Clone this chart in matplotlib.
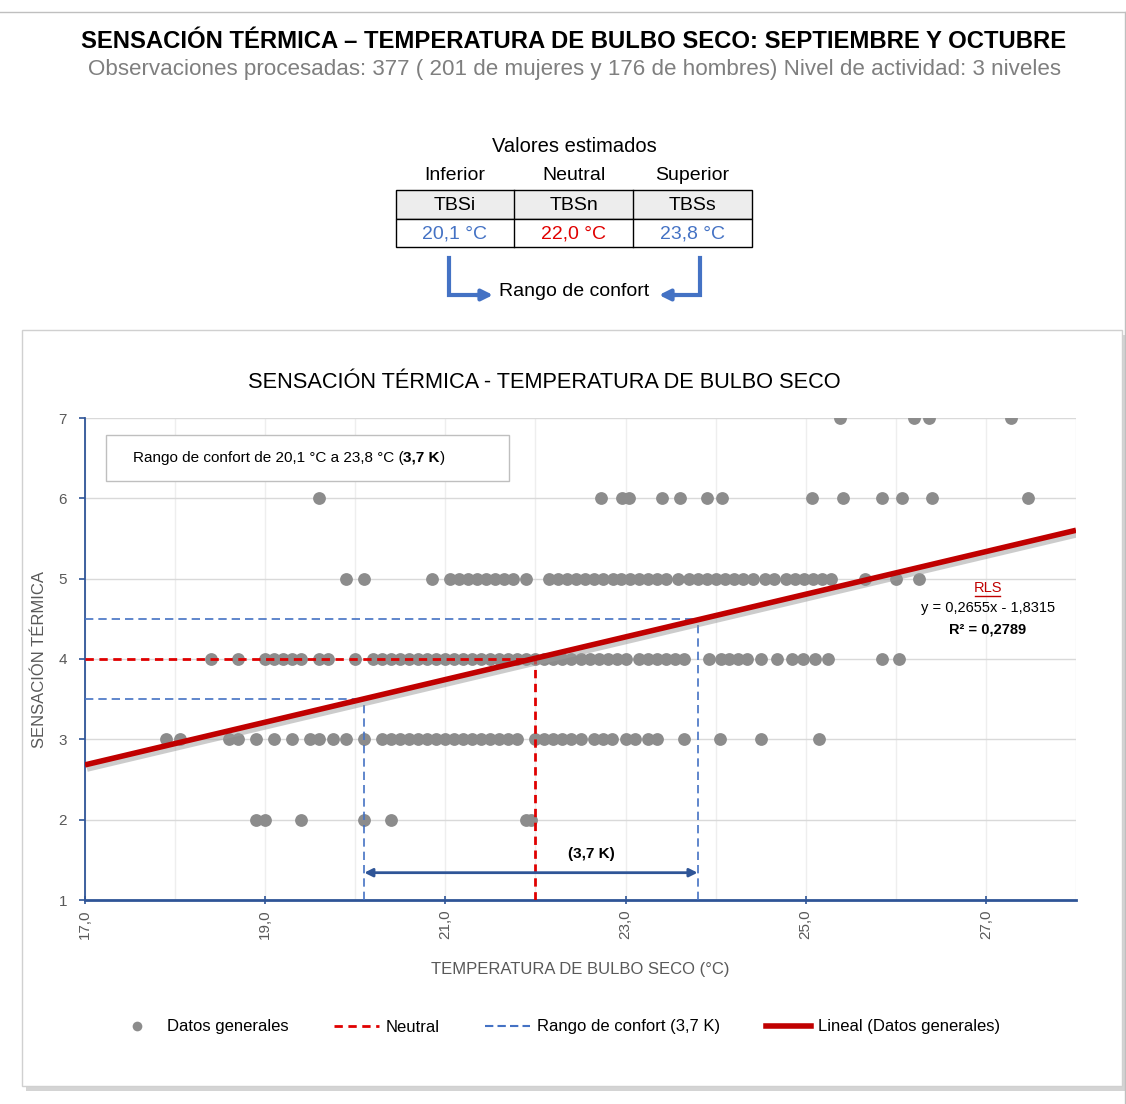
import numpy as np
import matplotlib
matplotlib.use("Agg")
import matplotlib.pyplot as plt
import matplotlib.patheffects as pe
from matplotlib.lines import Line2D
from matplotlib.patches import Rectangle

plt.rcParams['font.family'] = ['Liberation Sans', 'DejaVu Sans']

# Temperatura de bulbo seco (°C) de las observaciones, por nivel de sensación térmica
sens_2 = [18.9, 19.0, 19.4, 20.1, 20.4, 21.9, 21.95]
sens_3 = [17.9, 18.05, 18.6, 18.7, 18.9, 19.1, 19.3, 19.5, 19.6, 19.75, 19.9, 20.1,
          20.3, 20.4, 20.5, 20.6, 20.7, 20.8, 20.9, 21.0, 21.1, 21.2, 21.3, 21.4,
          21.5, 21.6, 21.7, 21.8, 22.0, 22.1, 22.2, 22.3, 22.4, 22.5, 22.65, 22.75,
          22.85, 23.0, 23.1, 23.25, 23.35, 23.65, 24.05, 24.5, 25.15]
sens_4 = [18.4, 18.7, 19.0, 19.1, 19.2, 19.3, 19.4, 19.6, 19.7, 20.0, 20.2, 20.3,
          20.4, 20.5, 20.6, 20.7, 20.8, 20.9, 21.0, 21.1, 21.2, 21.3, 21.4, 21.5,
          21.6, 21.7, 21.8, 21.9, 22.0, 22.1, 22.2, 22.3, 22.4, 22.5, 22.6, 22.7,
          22.8, 22.9, 23.0, 23.15, 23.25, 23.35, 23.45, 23.55, 23.65, 23.93, 24.06,
          24.15, 24.25, 24.35, 24.5, 24.68, 24.85, 24.97, 25.1, 25.25, 25.85, 26.03]
sens_5 = [19.9, 20.1, 20.85, 21.05, 21.15, 21.25, 21.35, 21.45, 21.55, 21.65, 21.75,
          21.9, 22.15, 22.25, 22.35, 22.45, 22.55, 22.65, 22.75, 22.86, 22.95, 23.05,
          23.15, 23.25, 23.35, 23.45, 23.58, 23.7, 23.8, 23.9, 24.0, 24.1, 24.2, 24.3,
          24.42, 24.55, 24.65, 24.78, 24.88, 24.98, 25.08, 25.18, 25.28, 25.66, 26.0, 26.26]
sens_6 = [19.6, 22.73, 22.96, 23.04, 23.4, 23.6, 23.9, 24.07, 25.07, 25.41, 25.85,
          26.07, 26.4, 27.47]
sens_7 = [25.38, 26.2, 26.37, 27.28]

niveles = [2, 3, 4, 5, 6, 7]
grupos = [sens_2, sens_3, sens_4, sens_5, sens_6, sens_7]

# Regresión lineal simple (RLS) y valores estimados
pendiente = 0.2655
intercepto = -1.8315
r2 = 0.2789
tbs_inf, tbs_neu, tbs_sup = 20.1, 22.0, 23.8
st_inf, st_neu, st_sup = 3.5, 4.0, 4.5
rango = 3.7

AZUL = '#4472C4'
AZUL_OSC = '#2F5597'
ROJO = '#E00000'
ROJO_RLS = '#C00000'
GRIS_PUNTO = '#8C8C8C'
GRIS_TXT = '#595959'


def coma(v, dec=1):
    return f"{v:.{dec}f}".replace('.', ',')


fig = plt.figure(figsize=(11.26, 11.04), dpi=100)

# capa de fondo en píxeles para encabezado, tabla y tarjeta del gráfico
bg = fig.add_axes([0, 0, 1, 1], zorder=0)
bg.set_xlim(0, 1126)
bg.set_ylim(1104, 0)
bg.axis('off')

bg.plot([0, 1126], [12, 12], color='#BFBFBF', lw=1)
bg.plot([1125, 1125], [12, 1104], color='#BFBFBF', lw=1)

bg.text(574, 41, "SENSACIÓN TÉRMICA – TEMPERATURA DE BULBO SECO: SEPTIEMBRE Y OCTUBRE",
        ha='center', va='center', fontsize=17.2, fontweight='bold', color='black')
bg.text(574, 69, "Observaciones procesadas: 377 ( 201 de mujeres y 176 de hombres) "
        "Nivel de actividad: 3 niveles",
        ha='center', va='center', fontsize=16.1, color='#7F7F7F')

# tabla de valores estimados
bg.text(574, 147, "Valores estimados", ha='center', va='center', fontsize=14.5)
cols = [396, 514, 633, 752]
encab = ["Inferior", "Neutral", "Superior"]
claves = ["TBSi", "TBSn", "TBSs"]
valores = [tbs_inf, tbs_neu, tbs_sup]
colores = [AZUL, ROJO, AZUL]
bg.add_patch(Rectangle((396, 190), 356, 29, fc='#EDEDED', ec='black', lw=1))
bg.add_patch(Rectangle((396, 219), 356, 28, fc='white', ec='black', lw=1))
for c in cols[1:-1]:
    bg.plot([c, c], [190, 247], color='black', lw=1)
for i in range(3):
    cx = (cols[i] + cols[i + 1]) / 2
    bg.text(cx, 176, encab[i], ha='center', va='center', fontsize=14)
    bg.text(cx, 205, claves[i], ha='center', va='center', fontsize=14)
    bg.text(cx, 234, coma(valores[i]) + " °C", ha='center', va='center',
            fontsize=14, color=colores[i])

# flechas hacia "Rango de confort"
bg.plot([449, 449, 480], [258, 295, 295], color=AZUL, lw=3, solid_joinstyle='miter')
bg.annotate('', xy=(493, 295), xytext=(476, 295),
            arrowprops=dict(arrowstyle='-|>', color=AZUL, lw=3, mutation_scale=16,
                            shrinkA=0, shrinkB=0))
bg.plot([700, 700, 672], [258, 295, 295], color=AZUL, lw=3, solid_joinstyle='miter')
bg.annotate('', xy=(659, 295), xytext=(676, 295),
            arrowprops=dict(arrowstyle='-|>', color=AZUL, lw=3, mutation_scale=16,
                            shrinkA=0, shrinkB=0))
bg.text(574, 292, "Rango de confort", ha='center', va='center', fontsize=14)

# tarjeta del gráfico con sombra
bg.add_patch(Rectangle((26, 335), 1100, 756, fc='#D4D4D4', ec='none'))
bg.add_patch(Rectangle((22, 330), 1100, 756, fc='white', ec='#D0D0D0', lw=1))
bg.text(544, 383, "SENSACIÓN TÉRMICA - TEMPERATURA DE BULBO SECO", ha='center',
        va='center', fontsize=15.7, color='black')

# área de trazado
ax = fig.add_axes([85 / 1126, 1 - 900 / 1104, (1076 - 85) / 1126, (900 - 418) / 1104],
                  zorder=1)
ax.set_facecolor('none')
ax.set_xlim(17, 28)
ax.set_ylim(1, 7)

ax.set_xticks(np.arange(17, 28, 2))
ax.set_xticklabels([coma(t) for t in np.arange(17, 28, 2)], rotation=90,
                   fontsize=11, color=GRIS_TXT)
ax.set_xticks(np.arange(17, 29, 1), minor=True)
ax.set_yticks(np.arange(1, 8, 1))
ax.set_yticklabels([str(t) for t in range(1, 8)], fontsize=11, color=GRIS_TXT)
ax.tick_params(axis='x', which='major', direction='inout', length=6, color=AZUL_OSC,
               width=1.2, pad=4)
ax.tick_params(axis='x', which='minor', length=0)
ax.tick_params(axis='y', direction='out', length=4, color=AZUL_OSC, width=1.2, pad=9)

ax.grid(axis='x', which='both', color='#EEEEEE', lw=1, zorder=0)
ax.grid(axis='y', which='major', color='#D9D9D9', lw=1, zorder=0)
ax.set_axisbelow(True)
for s in ['top', 'right']:
    ax.spines[s].set_visible(False)
ax.spines['left'].set_color(AZUL_OSC)
ax.spines['left'].set_linewidth(1.3)
ax.spines['bottom'].set_color(AZUL_OSC)
ax.spines['bottom'].set_linewidth(2)

ax.set_xlabel("TEMPERATURA DE BULBO SECO (°C)", fontsize=12, color=GRIS_TXT,
              labelpad=16)
ax.set_ylabel("SENSACIÓN TÉRMICA", fontsize=12, color=GRIS_TXT, labelpad=8)

for lvl, vals in zip(niveles, grupos):
    ax.scatter(vals, [lvl] * len(vals), s=85, color=GRIS_PUNTO, linewidths=0, zorder=3)

# líneas de referencia: neutral y rango de confort
ax.plot([17, tbs_neu], [st_neu, st_neu], color=ROJO, lw=2, dashes=(3, 2), zorder=4)
ax.plot([tbs_neu, tbs_neu], [1, st_neu], color=ROJO, lw=2, dashes=(3, 2), zorder=4)
for tx, sy in [(tbs_inf, st_inf), (tbs_sup, st_sup)]:
    ax.plot([17, tx], [sy, sy], color=AZUL, lw=1.2, dashes=(5, 3), zorder=4)
    ax.plot([tx, tx], [1, sy], color=AZUL, lw=1.2, dashes=(5, 3), zorder=4)

# recta de regresión
xs = np.array([17, 28])
ax.plot(xs, pendiente * xs + intercepto, color=ROJO_RLS, lw=4, zorder=5,
        solid_capstyle='butt',
        path_effects=[pe.SimpleLineShadow(offset=(1.5, -3), shadow_color='#9A9A9A',
                                          alpha=0.5), pe.Normal()])

ax.annotate('', xy=(tbs_inf, 1.34), xytext=(tbs_sup, 1.34),
            arrowprops=dict(arrowstyle='<|-|>', color=AZUL_OSC, lw=2,
                            mutation_scale=12, shrinkA=0, shrinkB=0), zorder=5)
ax.text(22.62, 1.57, f"({coma(rango)} K)", ha='center', va='center', fontsize=11,
        fontweight='bold')

# ecuación de la RLS
ax.text(27.02, 4.88, "RLS", ha='center', va='center', fontsize=10.5, color=ROJO_RLS,
        zorder=6)
ax.plot([26.88, 27.16], [4.78, 4.78], color=ROJO_RLS, lw=1, zorder=6)
ax.text(27.02, 4.63, f"y = {coma(pendiente, 4)}x - {coma(-intercepto, 4)}",
        ha='center', va='center', fontsize=10.5, zorder=6)
ax.text(27.02, 4.37, f"R² = {coma(r2, 4)}", ha='center', va='center', fontsize=10.5,
        fontweight='bold', zorder=6)

# cuadro de texto del rango de confort
ax.add_patch(Rectangle((17.23, 6.22), 4.48, 0.57, fc='white', ec='#BFBFBF', lw=1,
                       zorder=6))
t1 = ax.text(17.53, 6.505, f"Rango de confort de {coma(tbs_inf)} °C a {coma(tbs_sup)} °C (",
             ha='left', va='center', fontsize=11, zorder=7)
t2 = ax.annotate(f"{coma(rango)} K", xy=(1, 0), xycoords=t1, ha='left', va='bottom',
                 fontsize=11, fontweight='bold', zorder=7)
ax.annotate(")", xy=(1, 0), xycoords=t2, ha='left', va='bottom', fontsize=11, zorder=7)

# leyenda
handles = [
    Line2D([], [], ls='none', marker='o', ms=7, color=GRIS_PUNTO, mec='none'),
    Line2D([], [], color=ROJO, lw=2, dashes=(3, 2)),
    Line2D([], [], color=AZUL, lw=1.5, dashes=(4, 2)),
    Line2D([], [], color=ROJO_RLS, lw=4),
]
labels = ["Datos generales", "Neutral", f"Rango de confort ({coma(rango)} K)",
          "Lineal (Datos generales)"]
fig.legend(handles, labels, loc='center', bbox_to_anchor=(0.495, 1 - 1027 / 1104),
           ncol=4, frameon=False, fontsize=12, handlelength=2.7, columnspacing=2.75,
           handletextpad=0.4)

fig.savefig("out.png", dpi=100)
